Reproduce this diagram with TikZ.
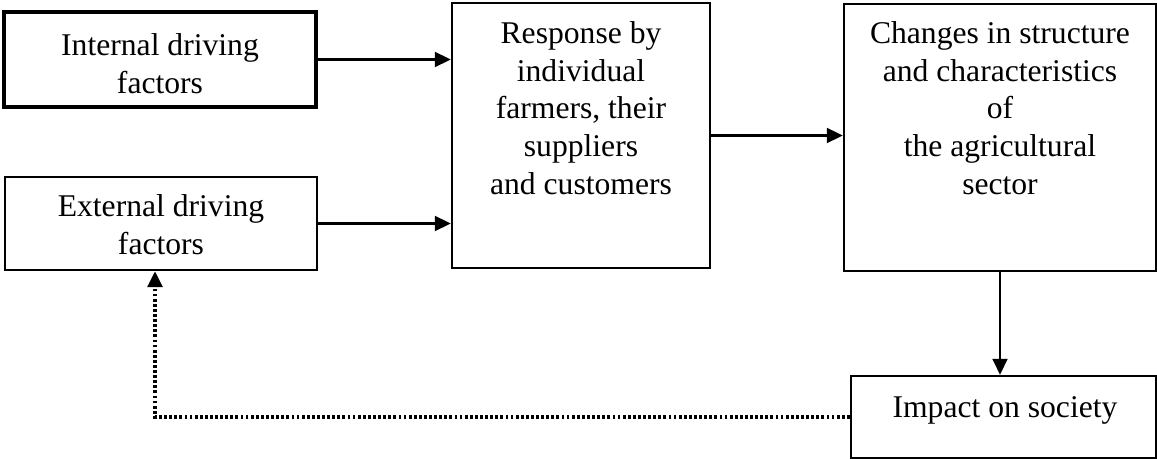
\documentclass[tikz,border=0pt]{standalone}
\usepackage{fontspec}
\setmainfont{Liberation Serif}
\usetikzlibrary{arrows.meta}

\begin{document}
\begin{tikzpicture}[x=0.02cm, y=-0.02cm,
  box/.style={draw, line width=1.5pt, inner sep=0pt},
  txt/.style={align=center, inner sep=0pt, font=\fontsize{18}{21.5}\selectfont},
  flow/.style={-{Triangle[length=9pt, width=8.5pt]}, line width=1.2pt},
  feedback/.style={flow, line width=1.8pt, dash pattern=on 1.6pt off 1.3pt}]

\useasboundingbox (0,0) rectangle (1157,459);

% Driving factors on the left
\node[box, line width=2.2pt, minimum width=6.24cm, minimum height=1.9cm] (int) at (160,59.5) {};
\node[txt] (inttxt) at (160,64) {Internal driving\\factors};
\node[box, minimum width=6.24cm, minimum height=1.86cm] (ext) at (161,223.5) {};
\node[txt] (exttxt) at (161,225) {External driving\\factors};

% Response and sector boxes, text set near the top
\node[box, minimum width=5.16cm, minimum height=5.3cm] (resp) at (581,135.5) {};
\node[txt, anchor=north] (resptxt) at (581,21) {Response by\\individual\\farmers, their\\suppliers\\and customers};

\node[box, minimum width=6.24cm, minimum height=5.34cm] (chg) at (1000,137.5) {};
\node[txt, anchor=north] (chgtxt) at (1000,21) {Changes in structure\\and characteristics\\of\\the agricultural\\sector};

\node[box, minimum width=6.1cm, minimum height=1.64cm] (imp) at (1003.5,417) {};
\node[txt, anchor=north] (imptxt) at (1005,396) {Impact on society};

% Connectors
\draw[flow] (int.east) -- (int.east -| resp.west);
\draw[flow] (ext.east) -- (ext.east -| resp.west);
\draw[flow] (resp.east) -- (resp.east -| chg.west);
\draw[flow] (chg.south) -- (chg.south |- imp.north);

% Feedback loop
\draw[feedback] (imp.west) -| ([xshift=-0.12cm]ext.south);

\end{tikzpicture}
\end{document}
